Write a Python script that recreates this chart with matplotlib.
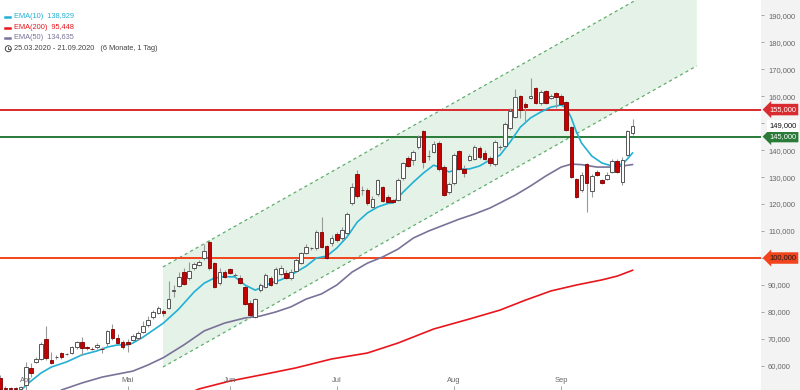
import numpy as np
import matplotlib
matplotlib.use('Agg')
import matplotlib.pyplot as plt
from matplotlib.patches import Rectangle, Ellipse
from matplotlib.lines import Line2D
from matplotlib.ticker import FuncFormatter

plt.rcParams['font.family'] = ['Liberation Sans', 'DejaVu Sans']

# daily candles 25.03.2020 - 21.09.2020, prices in thousands
opens = [55.6, 52.0, 51.9, 51.9, 51.3, 53.0, 59.3, 61.4, 62.6, 70.0,
         62.2, 63.2, 64.8, 64.3, 64.8, 67.0, 68.9, 66.8, 66.4, 67.0,
         66.4, 68.5, 73.7, 70.4, 68.9, 68.9, 69.6, 70.4, 72.6, 75.2,
         78.1, 79.6, 80.4, 81.4, 87.8, 89.6, 94.9, 92.5, 96.2, 97.4,
         99.9, 106.0, 98.1, 90.7, 94.8, 95.9, 93.6, 92.6, 89.3, 83.3,
         78.1, 88.1, 89.3, 92.6, 90.7, 94.1, 94.4, 92.6, 95.2, 98.1,
         101.9, 103.6, 103.7, 109.6, 104.4, 105.6, 108.9, 107.4, 109.3, 120.4,
         131.1, 125.1, 125.2, 118.9, 123.7, 126.3, 122.6, 121.5, 121.5, 129.6,
         137.0, 136.3, 141.1, 147.0, 137.7, 139.3, 142.6, 133.7, 124.4, 127.8,
         139.6, 133.0, 136.3, 136.7, 140.7, 138.9, 137.0, 134.8, 141.0, 141.5,
         148.1, 152.2, 160.0, 157.0, 159.3, 163.0, 157.4, 161.9, 159.3, 161.1,
         160.0, 157.8, 148.5, 129.3, 125.2, 134.8, 124.8, 131.9, 128.9, 129.3,
         131.9, 135.9, 128.1, 138.1, 146.3]
highs = [56.5, 52.4, 52.2, 52.2, 52.6, 61.5, 61.1, 63.3, 69.0, 74.8,
         65.2, 64.1, 65.2, 64.8, 67.4, 69.3, 70.7, 67.4, 67.0, 68.5,
         67.0, 73.3, 75.6, 71.9, 69.6, 70.0, 71.9, 73.0, 76.7, 78.5,
         80.7, 82.2, 81.1, 91.5, 90.0, 94.9, 96.2, 98.6, 98.6, 99.3,
         105.1, 106.7, 98.5, 96.3, 95.6, 96.3, 94.4, 93.7, 90.0, 84.4,
         85.2, 90.7, 94.4, 93.3, 96.7, 97.4, 95.6, 95.9, 100.0, 102.2,
         105.2, 104.1, 110.4, 115.2, 104.8, 108.5, 109.6, 111.5, 117.0, 127.8,
         132.6, 126.7, 125.9, 123.0, 129.3, 126.7, 123.3, 122.0, 129.6, 135.6,
         137.8, 140.0, 145.6, 147.4, 140.0, 143.3, 143.3, 134.4, 128.1, 138.9,
         140.0, 134.4, 138.5, 141.9, 141.5, 140.0, 137.8, 143.7, 141.9, 150.4,
         155.6, 162.6, 160.4, 157.8, 166.7, 163.3, 162.2, 162.2, 160.7, 161.5,
         160.7, 158.1, 148.9, 129.6, 131.9, 135.2, 131.1, 132.6, 129.3, 131.9,
         136.7, 136.7, 137.4, 147.4, 151.5]
lows = [51.1, 51.1, 51.1, 51.1, 51.0, 51.5, 55.9, 61.1, 62.2, 62.2,
        60.7, 62.6, 62.6, 64.1, 64.4, 66.3, 64.1, 65.9, 65.9, 66.3,
        64.8, 67.4, 69.6, 68.1, 66.3, 65.2, 69.3, 69.6, 72.2, 74.4,
        77.4, 79.3, 78.5, 81.0, 85.7, 89.1, 90.0, 92.0, 95.6, 96.9,
        99.3, 95.6, 88.9, 90.0, 92.6, 94.0, 93.0, 90.3, 82.6, 78.5,
        77.7, 87.4, 88.9, 89.6, 90.4, 93.7, 92.2, 91.9, 94.8, 97.6,
        101.5, 103.0, 103.0, 103.7, 99.6, 104.4, 105.9, 106.7, 108.5, 119.6,
        122.2, 123.3, 119.6, 118.5, 123.0, 120.7, 120.4, 120.3, 121.1, 128.9,
        133.7, 134.4, 140.4, 133.3, 136.3, 138.9, 132.2, 123.0, 123.7, 127.0,
        132.6, 130.0, 135.9, 136.3, 136.7, 136.3, 134.1, 134.1, 140.0, 140.7,
        147.4, 151.9, 151.9, 150.0, 158.9, 157.0, 156.7, 157.0, 158.9, 155.6,
        156.7, 147.0, 129.6, 122.2, 124.4, 117.0, 122.6, 130.4, 127.4, 128.9,
        131.5, 131.5, 127.0, 137.8, 145.6]
closes = [51.3, 51.4, 51.4, 51.3, 52.2, 59.6, 57.4, 62.5, 68.1, 63.0,
          61.1, 63.4, 63.3, 64.5, 67.0, 68.9, 66.7, 66.6, 66.2, 67.8,
          66.2, 73.0, 70.4, 68.5, 67.0, 68.1, 71.1, 72.2, 74.8, 77.0,
          80.0, 81.5, 79.6, 84.7, 88.0, 93.1, 90.3, 95.3, 97.7, 98.6,
          102.6, 96.2, 89.3, 94.8, 93.0, 94.4, 93.8, 90.7, 83.0, 78.9,
          84.8, 90.0, 93.7, 90.0, 95.9, 96.3, 92.6, 94.8, 99.3, 101.9,
          104.1, 103.8, 109.6, 104.1, 100.0, 107.4, 106.7, 110.4, 116.3, 126.3,
          123.0, 125.3, 120.4, 121.9, 128.9, 121.1, 120.7, 120.7, 128.9, 135.2,
          134.1, 139.3, 144.8, 135.6, 137.9, 142.2, 133.0, 123.3, 127.4, 138.1,
          133.0, 131.5, 137.8, 141.1, 137.4, 136.7, 135.2, 143.0, 141.2, 149.6,
          154.4, 159.6, 154.8, 155.9, 160.0, 157.4, 161.5, 157.4, 160.0, 159.6,
          157.0, 147.4, 130.0, 122.6, 130.7, 127.8, 130.4, 130.7, 127.8, 130.7,
          135.9, 131.9, 136.3, 147.0, 149.0]

month_labels = ['Apr', 'Mai', 'Jun', 'Jul', 'Aug', 'Sep']
month_idx = [5, 25, 45, 66, 89, 110]

# moving averages (candle index, value in thousands)
ema10_idx = [4, 6, 8, 10, 13, 16, 19, 21, 23, 25, 26, 28, 30, 32, 35, 38, 40, 42, 44, 46,
             48, 50, 51, 53, 55, 57, 60, 62, 64, 66, 68, 70, 72, 74, 76, 77, 79, 81, 83, 85,
             86, 88, 90, 92, 94, 96, 98, 100, 102, 104, 106, 108, 110, 111, 112, 113, 114, 116,
             118, 120, 122, 123, 124]
ema10_val = [51.0, 54.4, 57.4, 59.6, 61.5, 64.1, 65.6, 67.0, 67.8, 67.8, 68.5, 70.7, 73.3, 75.9,
             81.1, 87.4, 90.7, 92.6, 93.1, 93.0, 90.0, 88.1, 88.9, 90.7, 91.9, 93.7, 97.0, 100.0,
             100.7, 103.7, 107.8, 113.3, 116.7, 118.9, 120.2, 120.4, 124.4, 128.1, 131.5, 134.4,
             133.7, 131.9, 133.0, 133.0, 134.1, 136.3, 138.1, 143.0, 148.5, 151.9, 154.1, 155.9,
             156.7, 155.6, 151.9, 146.7, 142.6, 137.8, 135.2, 134.1, 134.8, 136.7, 138.929]
ema50_idx = [12, 16, 20, 23, 26, 29, 32, 36, 40, 44, 48, 51, 54, 57, 60, 63, 66, 69, 72, 75,
             78, 81, 84, 87, 90, 93, 96, 98, 101, 104, 107, 110, 112, 114, 117, 120, 122, 124]
ema50_val = [51.1, 53.7, 55.9, 57.0, 58.1, 60.4, 63.1, 67.8, 73.0, 75.9, 77.8, 78.5, 80.0, 81.9,
             84.8, 86.7, 90.0, 94.8, 98.1, 100.4, 103.3, 107.4, 110.0, 112.2, 114.4, 116.3,
             118.5, 120.4, 123.3, 126.7, 130.4, 133.7, 134.8, 134.6, 133.7, 133.7, 134.1, 134.635]
ema200_idx = [38, 39, 45, 52, 58, 65, 72, 78, 85, 92, 98, 103, 108, 113, 118, 121, 124]
ema200_val = [50.7, 51.5, 54.4, 57.0, 59.3, 62.6, 64.8, 68.5, 73.7, 77.4, 80.7, 84.4, 87.8,
              90.0, 91.9, 93.3, 95.448]

# trend channel (start/end index, upper and lower bound)
channel_idx = [31.9, 136.6]
channel_upper = [96.7, 208.3]
channel_lower = [59.6, 171.2]

levels = [155, 145, 100]
level_colors = ['#d92b2f', '#2a7a38', '#f2441c']
level_text = ['white', 'white', '#1a1a1a']
last_price = 149

CYAN = '#22b0d4'
PURPLE = '#7a7299'
RED = '#e8161c'

W, H = 800, 390
fig = plt.figure(figsize=(W / 100, H / 100), dpi=100)
fig.patches.append(Rectangle((761 / W, 0), 1 - 761 / W, 1, transform=fig.transFigure,
                             fc='#f3f3f3', ec='none', zorder=-1))
ax = fig.add_axes([0, 0, 761 / W, 1])
for s in ax.spines.values():
    s.set_visible(False)

K = 1000
o = np.array(opens) * K
h = np.array(highs) * K
l = np.array(lows) * K
c = np.array(closes) * K
x = np.arange(len(o))

# channel
cx = np.array(channel_idx)
ax.fill_between(cx, np.array(channel_lower) * K, np.array(channel_upper) * K,
                color='#e5f2e7', lw=0, zorder=1)
for bound in (channel_upper, channel_lower):
    ax.plot(cx, np.array(bound) * K, color='#5fae6e', lw=0.9,
            linestyle=(0, (2.5, 2.5)), zorder=1.5)

# horizontal levels
for lvl, col in zip(levels, level_colors):
    ax.axhline(lvl * K, color=col, lw=1.4, zorder=2)

# moving averages
ax.plot(ema200_idx, np.array(ema200_val) * K, color=RED, lw=1.2, zorder=3)
ax.plot(ema50_idx, np.array(ema50_val) * K, color=PURPLE, lw=1.2, zorder=3)
ax.plot(ema10_idx, np.array(ema10_val) * K, color=CYAN, lw=1.2, zorder=3)

# candles
up = c >= o
ax.vlines(x, l, h, color='#999999', lw=0.8, zorder=4)
bottom = np.minimum(o, c)
height = np.maximum(np.abs(c - o), 250)
ax.bar(x[up], height[up], bottom=bottom[up], width=0.7, color='white',
       edgecolor='#555555', linewidth=0.7, zorder=5)
ax.bar(x[~up], height[~up], bottom=bottom[~up], width=0.7, color='#c80000',
       edgecolor='#7a0000', linewidth=0.6, zorder=5)

ax.set_xlim(-0.06, 149.2)
ax.set_ylim(51100, 195600)

ax.yaxis.tick_right()
ax.set_yticks(np.arange(60000, 190001, 10000))
ax.yaxis.set_major_formatter(FuncFormatter(lambda v, p: f'{v:,.0f}'))
ax.tick_params(axis='y', length=2.5, width=0.6, color='#999999', labelcolor='#666666',
               labelsize=5.4, pad=2.5)
ax.set_xticks(month_idx)
ax.set_xticklabels(month_labels)
ax.tick_params(axis='x', direction='in', length=3, width=0.6, color='#999999',
               labelcolor='#666666', labelsize=5.4, pad=-9)
ax.xaxis.set_zorder(6)

# level labels on the price axis
for lvl, col, tc in zip(levels, level_colors, level_text):
    ax.text(1.0 + 8 / 761, lvl * K, f'{lvl * K:,.0f}', transform=ax.get_yaxis_transform(),
            ha='left', va='center', fontsize=5.4, color=tc, clip_on=False, zorder=7,
            bbox=dict(boxstyle='larrow,pad=0.3', fc=col, ec='none'))
ax.text(1.0 + 8 / 761, last_price * K, f'{last_price * K:,.0f}', transform=ax.get_yaxis_transform(),
        ha='left', va='center', fontsize=5.4, color='#111111', clip_on=False, zorder=7,
        bbox=dict(boxstyle='square,pad=0.3', fc='white', ec='none'))

# legend block top-left
legend_rows = [('EMA(10)  138,929', CYAN, 16.7), ('EMA(200)  95,448', RED, 27.7),
               ('EMA(50)  134,635', PURPLE, 37.9)]
for txt, col, yy in legend_rows:
    fig.add_artist(Line2D([5 / W, 9.5 / W], [1 - yy / H, 1 - yy / H], color=col, lw=1.8,
                          transform=fig.transFigure))
    fig.text(14 / W, 1 - yy / H, txt, color=col, fontsize=5.3, va='center', ha='left')
yy = 48.7
fig.add_artist(Ellipse((8.3 / W, 1 - yy / H), 6 / W, 6 / H, transform=fig.transFigure,
                       fill=False, ec='#444444', lw=0.7))
fig.add_artist(Line2D([8.3 / W, 8.3 / W, 10 / W], [1 - (yy - 2.2) / H, 1 - yy / H, 1 - yy / H],
                      color='#444444', lw=0.6, transform=fig.transFigure))
fig.text(14 / W, 1 - yy / H, '25.03.2020 - 21.09.2020   (6 Monate, 1 Tag)', color='#444444',
         fontsize=5.3, va='center', ha='left')

fig.savefig('out.png', dpi=100)
